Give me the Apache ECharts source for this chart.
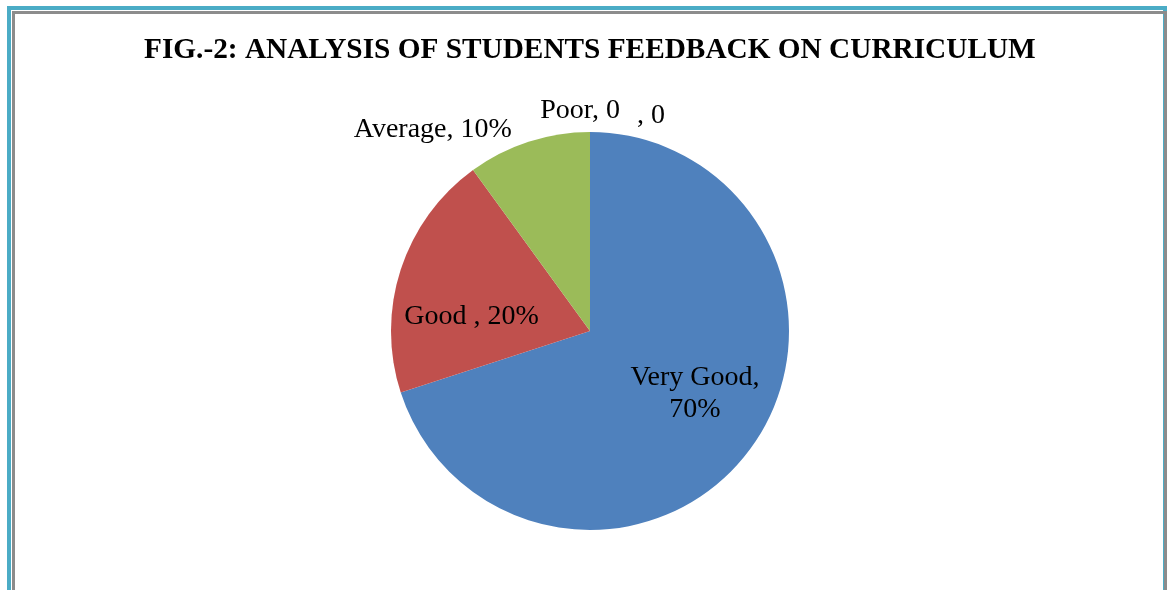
<!DOCTYPE html>
<html>
<head>
<meta charset="utf-8">
<script src="https://cdn.jsdelivr.net/npm/echarts@6/dist/echarts.min.js"></script>
<style>
  html, body { margin: 0; padding: 0; background: #fff; overflow: hidden; }
  #outer { position: absolute; left: 7px; top: 6px; width: 1160px; height: 600px;
    border: 4px solid #4BACC6; border-bottom: none; box-sizing: border-box; }
  #inner { position: absolute; left: 12px; top: 11px; width: 1155px; height: 600px;
    border: 3px solid #8C8C8C; border-bottom: none; box-sizing: border-box; }
  #chart { position: absolute; left: 0; top: 0; width: 1169px; height: 590px; }
</style>
</head>
<body>
<div id="outer"></div>
<div id="inner"></div>
<div id="chart"></div>
<script>
// data
const categories = ['Very Good', 'Good ', 'Average', 'Poor', '']
const values = [70, 20, 10, 0, 0]
const labelTexts = ['Very Good,\n70%', 'Good , 20%', 'Average, 10%', 'Poor, 0', ', 0']
const colors = ['#4F81BD', '#C0504D', '#9BBB59', '#8064A2', '#4BACC6']

// label nudges (relative to library placement)
const labelShift = [[22, 2], [-21, 17], [23, 2], [65, -6], [110, -1]]
const insideLabel = [true, true, false, false, false]

const chart = echarts.init(document.getElementById('chart'))

chart.setOption({
  animation: false,
  title: {
    text: 'FIG.-2: ANALYSIS OF STUDENTS FEEDBACK ON CURRICULUM',
    left: 139,
    top: 31,
    textStyle: {
      fontFamily: 'Liberation Serif',
      fontWeight: 'bold',
      fontSize: 29.3,
      color: '#000',
    },
  },
  series: [{
    type: 'pie',
    center: [590, 331],
    radius: 199,
    startAngle: 90,
    clockwise: true,
    minShowLabelAngle: 0,
    avoidLabelOverlap: false,
    data: categories.map((name, i) => ({
      name,
      value: values[i],
      itemStyle: { color: colors[i] },
      label: {
        show: true,
        position: insideLabel[i] ? 'inside' : 'outside',
        formatter: labelTexts[i],
      },
      labelLine: { show: false },
    })),
    label: {
      fontFamily: 'Liberation Serif',
      fontSize: 28,
      color: '#000',
      lineHeight: 32,
    },
    labelLayout: (params) => {
      const s = labelShift[params.dataIndex]
      return { dx: s[0], dy: s[1] }
    },
  }],
})
</script>
</body>
</html>
